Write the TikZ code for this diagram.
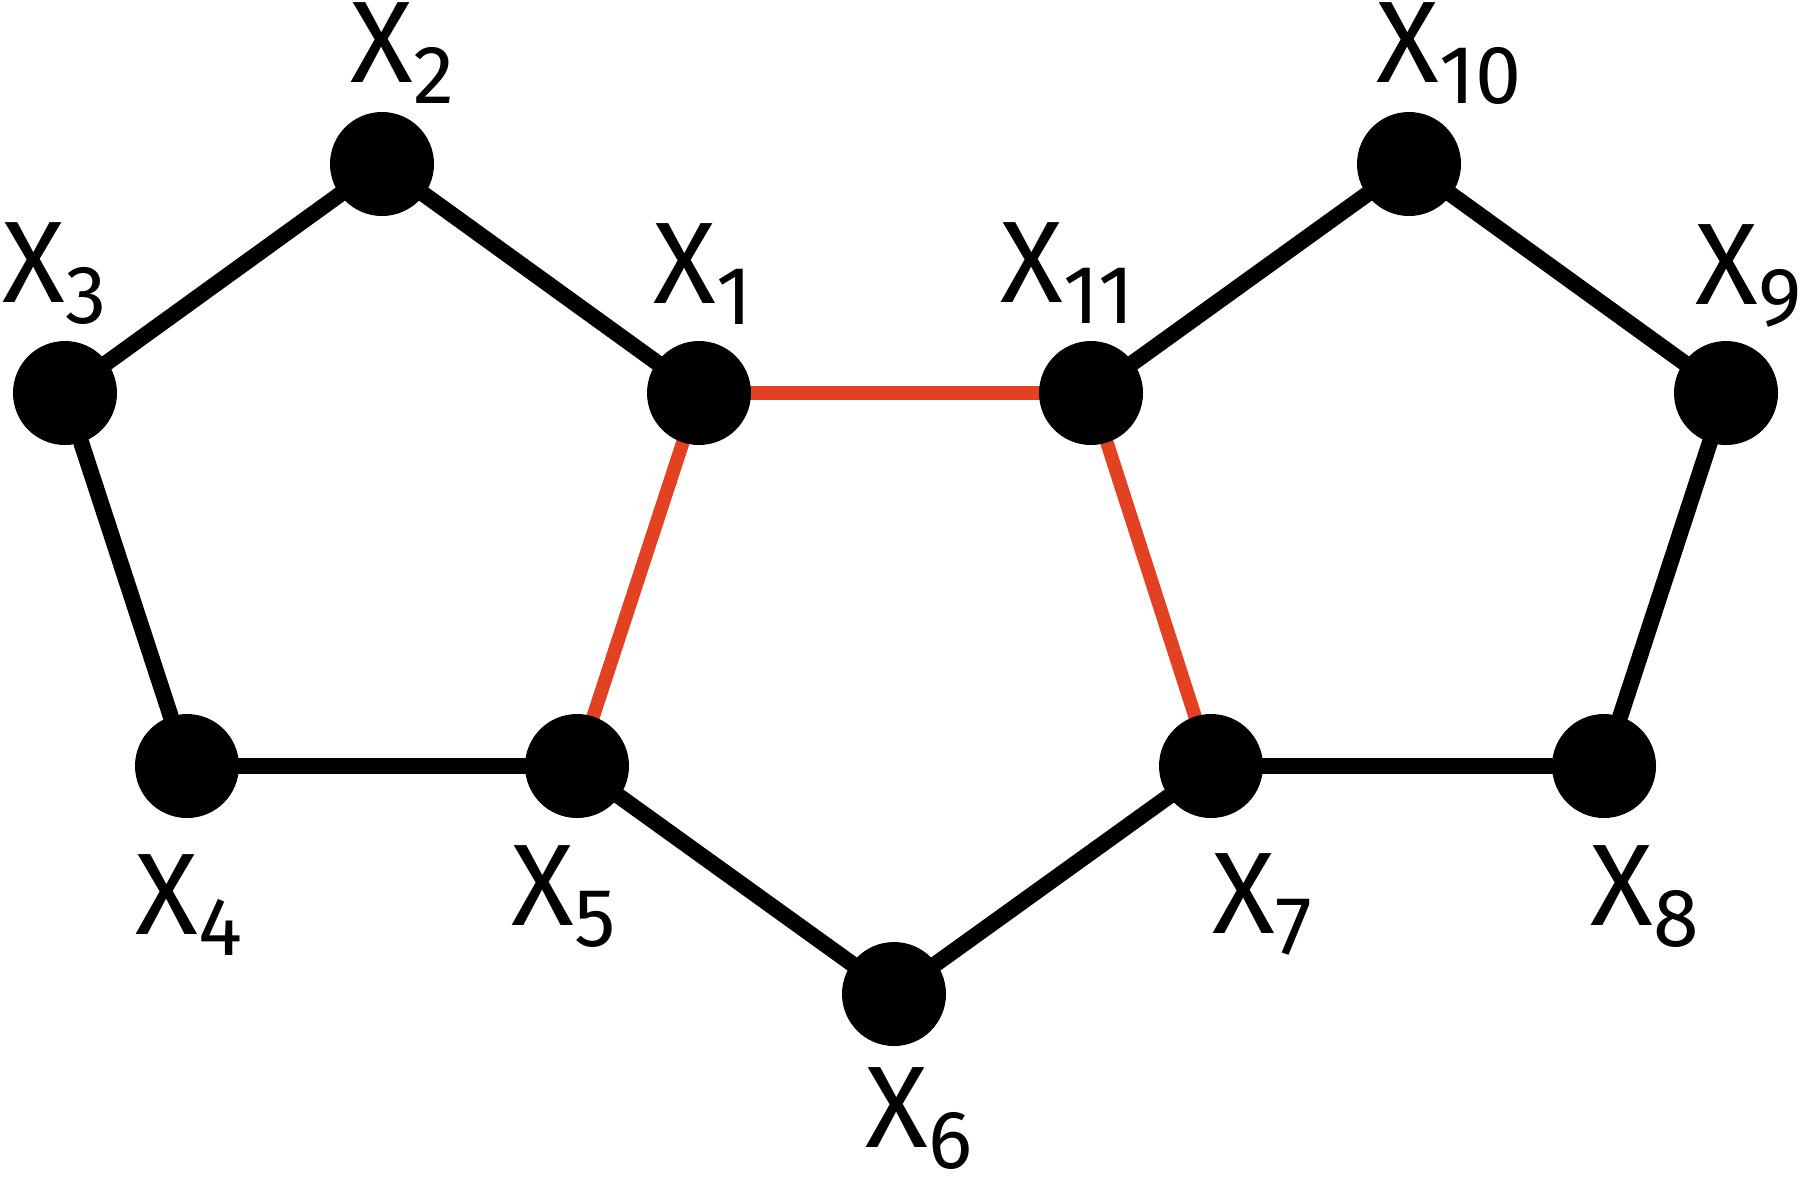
\documentclass[tikz,border=0pt]{standalone}
\usepackage{fontspec}
\setmainfont{Fira Sans}
\usepackage{xcolor}
\usepackage{tikz}
\usetikzlibrary{backgrounds}
\definecolor{edgered}{RGB}{226,66,34}
\newcommand{\xlab}[1]{X\raisebox{-2.1mm}{\fontsize{23.5}{25}\selectfont #1}}
\tikzset{
    every node/.style={font=\fontsize{33}{36}\selectfont},
    vert/.style={draw=none, circle, fill=black, minimum size=10.4mm, inner sep=0pt},
    lab/.style={anchor=base west, inner sep=0pt},
    bond/.style={line width=1.6mm, black},
    ring/.style={line width=1.35mm, edgered}
}
\begin{document}
\begin{tikzpicture}[x=0.1mm, y=-0.1mm]
        \useasboundingbox (0,0) rectangle (1800,1176);
        \node[vert] (x1) at (699,393) {};
        \node[vert] (x2) at (382,164) {};
        \node[vert] (x3) at (65,393) {};
        \node[vert] (x4) at (187,766) {};
        \node[vert] (x5) at (577,766) {};
        \node[vert] (x6) at (894,994) {};
        \node[vert] (x7) at (1211,766) {};
        \node[vert] (x8) at (1604,766) {};
        \node[vert] (x9) at (1726,393) {};
        \node[vert] (x10) at (1409,164) {};
        \node[vert] (x11) at (1091,393) {};

        \node[lab] (l1) at (653,303) {\xlab{1}};
        \node[lab] (l2) at (350,82) {\xlab{2}};
        \node[lab] (l3) at (2,302) {\xlab{3}};
        \node[lab] (l4) at (135,934) {\xlab{4}};
        \node[lab] (l5) at (511,925) {\xlab{5}};
        \node[lab] (l6) at (865,1147) {\xlab{6}};
        \node[lab] (l7) at (1212,933) {\xlab{7}};
        \node[lab] (l8) at (1590,925) {\xlab{8}};
        \node[lab] (l9) at (1695,304) {\xlab{9}};
        \node[lab] (l10) at (1376,82) {\xlab{10}};
        \node[lab] (l11) at (1000,302) {\xlab{11}};

        \begin{pgfonlayer}{background}
        \draw[bond] (x3.center) -- (x2.center);
        \draw[bond] (x2.center) -- (x1.center);
        \draw[bond] (x3.center) -- (x4.center);
        \draw[bond] (x4.center) -- (x5.center);
        \draw[bond] (x5.center) -- (x6.center);
        \draw[bond] (x6.center) -- (x7.center);
        \draw[bond] (x7.center) -- (x8.center);
        \draw[bond] (x8.center) -- (x9.center);
        \draw[bond] (x9.center) -- (x10.center);
        \draw[bond] (x10.center) -- (x11.center);
        \draw[ring] (x1.center) -- (x11.center);
        \draw[ring] (x1.center) -- (x5.center);
        \draw[ring] (x11.center) -- (x7.center);
        \end{pgfonlayer}
    \end{tikzpicture}
\end{document}
